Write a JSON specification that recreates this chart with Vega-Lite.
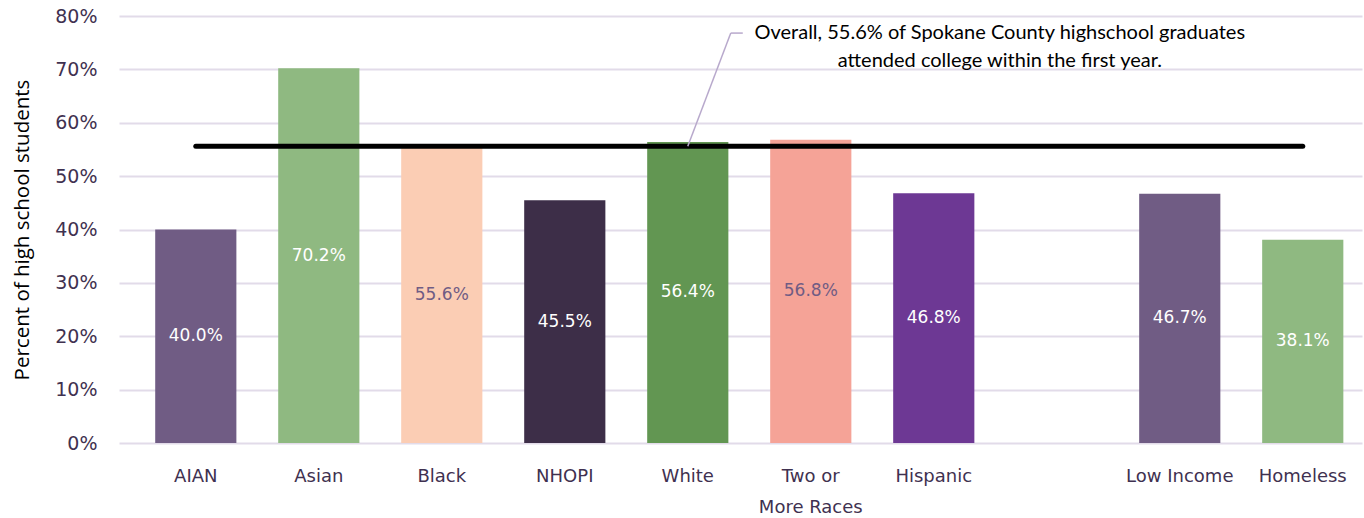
{
  "$schema": "https://vega.github.io/schema/vega-lite/v6.json",
  "autosize": {"type": "none"},
  "width": 1243,
  "height": 427,
  "padding": {"left": 119, "top": 16, "right": 2, "bottom": 75},
  "background": "white",
  "config": {"view": {"stroke": null}},
  "datasets": {
    "bars": [
      {"group": "AIAN", "value": 40.0},
      {"group": "Asian", "value": 70.2},
      {"group": "Black", "value": 55.6},
      {"group": "NHOPI", "value": 45.5},
      {"group": "White", "value": 56.4},
      {"group": "Two or More Races", "value": 56.8},
      {"group": "Hispanic", "value": 46.8},
      {"group": "Low Income", "value": 46.7},
      {"group": "Homeless", "value": 38.1}
    ],
    "overall": [{"from": "AIAN", "to": "Homeless", "value": 55.6}],
    "note": [{"group": "White", "value": 55.6, "top": 76.8, "text": ["Overall, 55.6% of Spokane County highschool graduates", "attended college within the first year."]}]
  },
  "layer": [
    {
      "data": {"name": "bars"},
      "mark": {"type": "bar"},
      "encoding": {
        "x": {
          "field": "group", "type": "nominal", "sort": null,
          "scale": {"domain": ["AIAN", "Asian", "Black", "NHOPI", "White", "Two or More Races", "Hispanic", " ", "Low Income", "Homeless"], "paddingInner": 0.34, "paddingOuter": 0.223, "align": 0.66},
          "axis": {
            "title": null, "domain": false, "ticks": false, "labelAngle": 0,
            "labelFont": "DejaVu Sans", "labelFontSize": 18, "labelColor": "#3f3150",
            "labelPadding": 24, "labelLineHeight": 31,
            "labelExpr": "datum.label == 'Two or More Races' ? ['Two or', 'More Races'] : datum.label"
          }
        },
        "y": {
          "field": "value", "type": "quantitative",
          "scale": {"domain": [0, 80], "nice": false},
          "axis": {
            "values": [0, 10, 20, 30, 40, 50, 60, 70, 80],
            "labelExpr": "datum.value + '%'",
            "title": "Percent of high school students",
            "titleFont": "Open Sans", "titleFontSize": 20.5, "titleFontWeight": "normal", "titleColor": "#000000", "titlePadding": 22,
            "labelFont": "DejaVu Sans", "labelFontSize": 19, "labelColor": "#3f3150", "labelPadding": 22,
            "domain": false, "ticks": false,
            "grid": true, "gridColor": "#e2dbe9", "gridWidth": 2
          }
        },
        "color": {
          "field": "group", "type": "nominal", "legend": null,
          "scale": {
            "domain": ["AIAN", "Asian", "Black", "NHOPI", "White", "Two or More Races", "Hispanic", "Low Income", "Homeless"],
            "range": ["#705c84", "#8fb981", "#fbcdb4", "#3d2e48", "#629652", "#f5a397", "#6d3894", "#705c84", "#8fb981"]
          }
        }
      }
    },
    {
      "data": {"name": "bars"},
      "transform": [{"calculate": "datum.value / 2", "as": "half"}, {"calculate": "datum.value / 100", "as": "share"}],
      "mark": {"type": "text", "font": "DejaVu Sans", "fontSize": 17, "baseline": "middle", "align": "center"},
      "encoding": {
        "x": {"field": "group", "type": "nominal", "sort": null},
        "y": {"field": "half", "type": "quantitative"},
        "text": {"field": "share", "type": "quantitative", "format": ".1%"},
        "color": {
          "condition": {"test": "datum.group == 'Black' || datum.group == 'Two or More Races'", "value": "#705c84"},
          "value": "#ffffff"
        }
      }
    },
    {
      "data": {"name": "overall"},
      "mark": {"type": "rule", "color": "#000000", "strokeWidth": 5, "strokeCap": "round"},
      "encoding": {
        "x": {"field": "from", "type": "nominal"},
        "x2": {"field": "to"},
        "y": {"field": "value", "type": "quantitative"}
      }
    },
    {
      "data": {"name": "note"},
      "mark": {"type": "rule", "color": "#b8a9cc", "strokeWidth": 1.5, "x2Offset": 43},
      "encoding": {
        "x": {"field": "group", "type": "nominal"},
        "x2": {"field": "group"},
        "y": {"field": "value", "type": "quantitative"},
        "y2": {"field": "top"}
      }
    },
    {
      "data": {"name": "note"},
      "mark": {"type": "rule", "color": "#b8a9cc", "strokeWidth": 1.5, "xOffset": 43, "x2Offset": 55},
      "encoding": {
        "x": {"field": "group", "type": "nominal"},
        "x2": {"field": "group"},
        "y": {"field": "top", "type": "quantitative"}
      }
    },
    {
      "data": {"name": "note"},
      "mark": {"type": "text", "font": "Lato", "fontSize": 20, "align": "center", "baseline": "middle", "lineHeight": 28, "color": "#000000", "dx": 312},
      "encoding": {
        "x": {"field": "group", "type": "nominal"},
        "y": {"field": "top", "type": "quantitative"},
        "text": {"field": "text"}
      }
    }
  ]
}
